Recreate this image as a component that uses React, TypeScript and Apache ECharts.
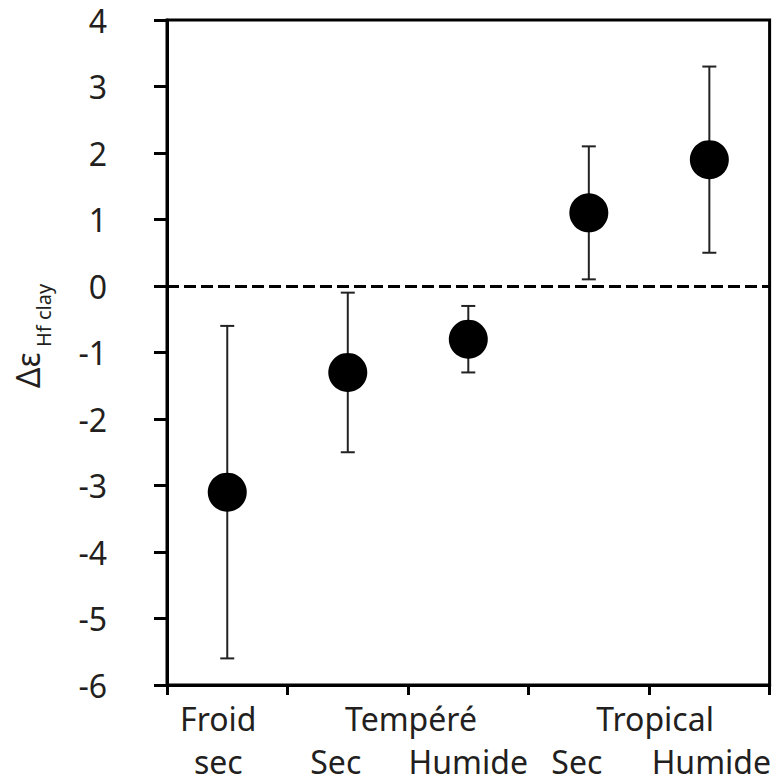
import React, { useEffect, useRef } from "react";
import * as echarts from "echarts";

const categoryLabels = ["Froid\nsec", "\nSec", "\nHumide", "\nSec", "\nHumide"];
const groupLabels = ["Tempéré", "Tropical"];
const groupPositions = [2, 4];
const means = [-3.1, -1.3, -0.8, 1.1, 1.9];
const lows = [-5.6, -2.5, -1.3, 0.1, 0.5];
const highs = [-0.6, -0.1, -0.3, 2.1, 3.3];
const yTicks = { min: -6, max: 4, interval: 1 };

// layout: horizontal nudges of the tick labels (px)
const labelShift = [-9, -12, 0, -12, 2];
const groupShift = [3, 6];

const FONT = "Noto Sans";
const TXT = "#231f20";

export default function App() {
  const ref = useRef<HTMLDivElement>(null);
  useEffect(() => {
    if (!ref.current) return;
    const chart = echarts.init(ref.current, null, { renderer: "svg" });
    const padFor = (s: number) => (s < 0 ? [0, -2 * s, 0, 0] : [0, 0, 0, 2 * s]);
    const groupRich: any = {};
    groupLabels.forEach((_, i) => {
      groupRich["g" + i] = {
        color: TXT,
        fontFamily: FONT,
        fontSize: 32,
        lineHeight: 43,
        padding: padFor(groupShift[i]),
      };
    });
    chart.setOption({
      animation: false,
      backgroundColor: "#fff",
      grid: {
        left: 167,
        right: 4,
        top: 20,
        bottom: 96,
        show: true,
        borderColor: "#000",
        borderWidth: 3,
      },
      xAxis: [
        {
          type: "category",
          data: categoryLabels.map((c, i) => ({
            value: c,
            textStyle: { padding: padFor(labelShift[i]) },
          })),
          boundaryGap: true,
          axisLine: { show: true, onZero: false, lineStyle: { color: "#000", width: 3 } },
          axisTick: { show: true, length: 10, lineStyle: { color: "#000", width: 3 } },
          axisLabel: {
            color: TXT,
            fontFamily: FONT,
            fontSize: 32,
            lineHeight: 43,
            margin: 12,
            interval: 0,
          },
          splitLine: { show: false },
        },
        {
          type: "value",
          position: "bottom",
          offset: 0,
          min: 0,
          max: 5,
          interval: 1,
          axisLine: { show: false, onZero: false },
          axisTick: { show: false },
          splitLine: { show: false },
          axisLabel: {
            color: TXT,
            fontFamily: FONT,
            fontSize: 32,
            lineHeight: 43,
            margin: 12,
            rich: groupRich,
            formatter: (v: number) => {
              const i = groupPositions.indexOf(v);
              return i >= 0 ? `{g${i}|${groupLabels[i]}}` : "";
            },
          },
        },
      ],
      yAxis: {
        type: "value",
        min: yTicks.min,
        max: yTicks.max,
        interval: yTicks.interval,
        axisLine: { show: true, onZero: false, lineStyle: { color: "#000", width: 3 } },
        axisTick: { show: true, length: 13, lineStyle: { color: "#000", width: 3 } },
        axisLabel: {
          color: TXT,
          fontFamily: FONT,
          fontSize: 32,
          margin: 60,
        },
        splitLine: { show: false },
      },
      graphic: [
        {
          type: "group",
          x: 38,
          y: 388,
          rotation: Math.PI / 2,
          children: [
            {
              type: "text",
              x: 0,
              y: -11,
              style: {
                text: "Δε",
                fontFamily: FONT,
                fontSize: 32,
                fill: TXT,
                align: "left",
                verticalAlign: "middle",
              },
            },
            {
              type: "text",
              x: 41,
              y: 5,
              style: {
                text: "Hf clay",
                fontFamily: FONT,
                fontSize: 20,
                fill: TXT,
                align: "left",
                verticalAlign: "middle",
              },
            },
          ],
        },
      ],
      series: [
        {
          type: "custom",
          xAxisIndex: 0,
          yAxisIndex: 0,
          z: 2,
          data: means.map((_, i) => [i, lows[i], highs[i]]),
          encode: { x: 0, y: [1, 2] },
          renderItem: (params: any, api: any) => {
            const x = api.value(0);
            const lo = api.coord([x, api.value(1)]);
            const hi = api.coord([x, api.value(2)]);
            const cw = 7;
            const st = { stroke: "#222", lineWidth: 2 };
            return {
              type: "group",
              children: [
                { type: "line", shape: { x1: lo[0], y1: lo[1], x2: hi[0], y2: hi[1] }, style: st },
                { type: "line", shape: { x1: lo[0] - cw, y1: lo[1], x2: lo[0] + cw, y2: lo[1] }, style: st },
                { type: "line", shape: { x1: hi[0] - cw, y1: hi[1], x2: hi[0] + cw, y2: hi[1] }, style: st },
              ],
            };
          },
        },
        {
          type: "scatter",
          xAxisIndex: 0,
          yAxisIndex: 0,
          z: 3,
          symbol: "circle",
          symbolSize: 39,
          itemStyle: { color: "#000", opacity: 1 },
          data: means.map((m, i) => [i, m]),
          markLine: {
            silent: true,
            symbol: ["none", "none"],
            label: { show: false },
            lineStyle: { color: "#000", width: 3, type: [12, 5], opacity: 1 },
            data: [{ yAxis: 0 }],
          },
        },
      ],
    });
    return () => chart.dispose();
  }, []);
  return (
    <div
      ref={ref}
      style={{ position: "absolute", left: 0, top: 0, width: 774, height: 783 }}
    />
  );
}
